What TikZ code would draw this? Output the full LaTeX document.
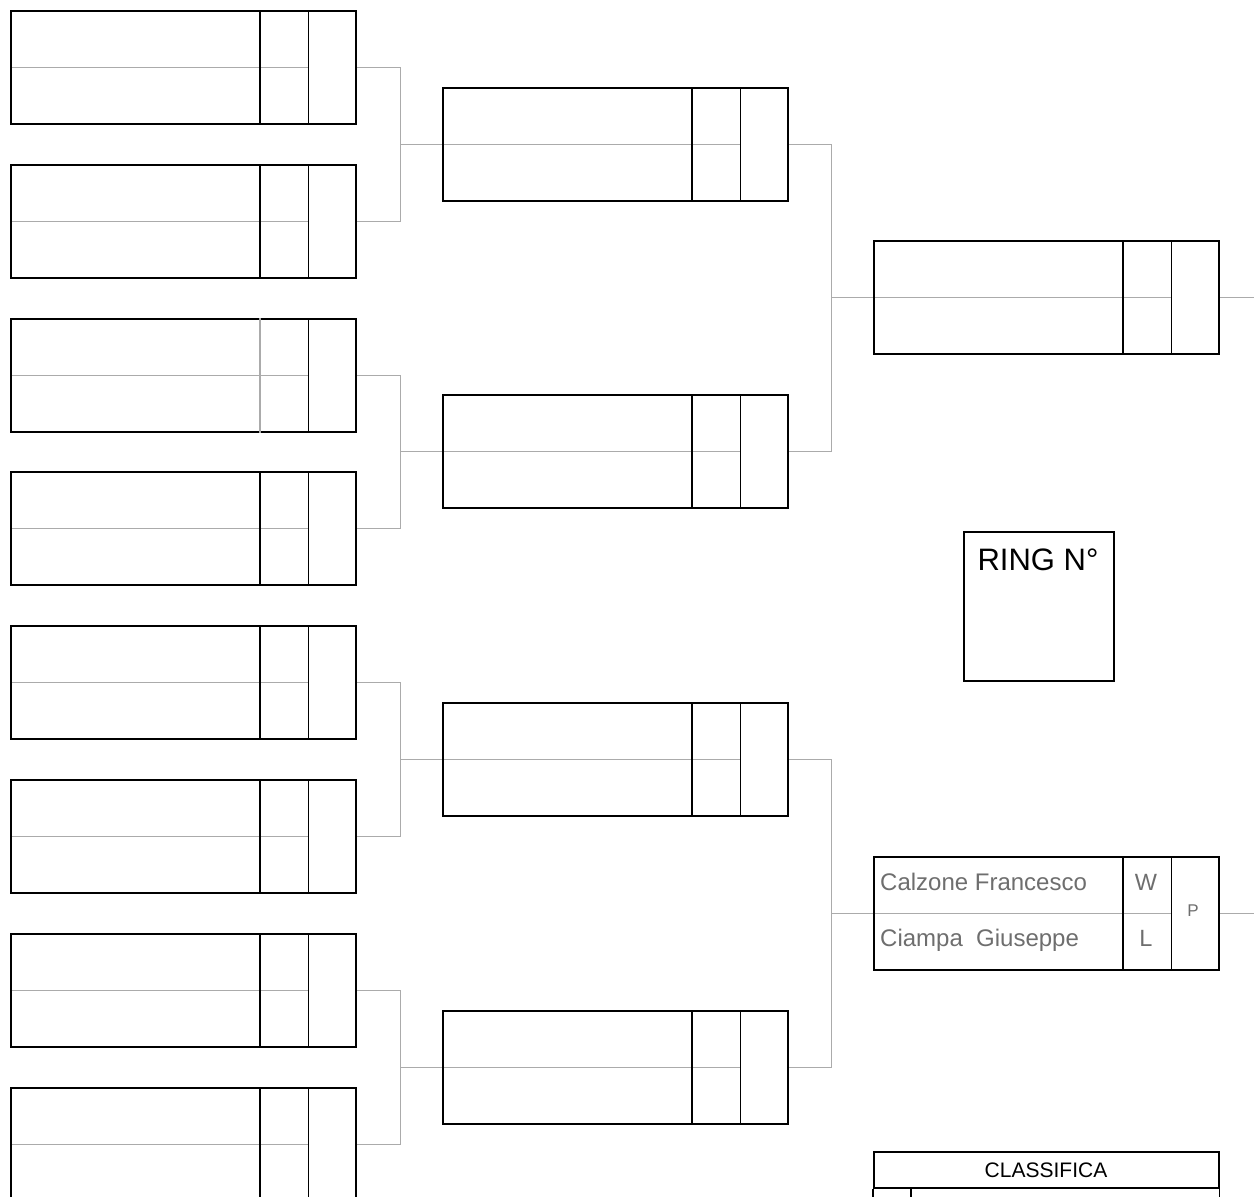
\documentclass[tikz,border=0pt]{standalone}
\usepackage{fontspec}
\setmainfont{Liberation Sans}
\usetikzlibrary{calc}
\definecolor{linegray}{HTML}{ABABAB}
\definecolor{textgray}{HTML}{6E6E6E}
\pgfdeclarelayer{background}
\pgfsetlayers{background,main}
\begin{document}
\begin{tikzpicture}[x=1pt,y=-1pt,
  match/.style={draw=black,line width=1.6pt,minimum width=345pt,minimum height=113pt,inner sep=0pt,anchor=north west},
  guide/.style={draw=linegray,line width=1.3pt},
  divider/.style={draw=black,line width=1.6pt},
  frame/.style={draw=black,line width=1.6pt,inner sep=0pt,anchor=north west},
  label/.style={inner sep=0pt,anchor=base},
  entry/.style={inner sep=0pt,text=textgray}]
\useasboundingbox (0,0) rectangle (1254,1197);

% round 1 boxes
\foreach \i/\t in {1/10,2/164,3/318,4/471,5/625,6/779,7/933,8/1087}
  \node[match] (L\i) at (10,\t) {};
% round 2 boxes
\foreach \i/\t in {1/87,2/394,3/702,4/1010}
  \node[match] (M\i) at (442,\t) {};
% round 3 boxes
\node[match] (F1) at (873,240) {};
\node[match] (F2) at (873,856) {};

% dividers
\foreach \n in {L1,L2,L4,L5,L6,L7,L8,M1,M2,M3,M4,F1,F2}
  \draw[divider] ([xshift=250pt]\n.north west) -- ([xshift=250pt]\n.south west);
\draw[guide] ([xshift=250pt]L3.north west) -- ([xshift=250pt]L3.south west);
\foreach \n in {L1,L2,L3,L4,L5,L6,L7,L8,M1,M2,M3,M4,F1,F2}
  \draw[divider] ([xshift=298.5pt]\n.north west) -- ([xshift=298.5pt]\n.south west);

% junctions
\coordinate (j1) at ($(L1.east)!0.5!(L2.east)+(44,0)$);
\coordinate (j2) at ($(L3.east)!0.5!(L4.east)+(44,0)$);
\coordinate (j3) at ($(L5.east)!0.5!(L6.east)+(44,0)$);
\coordinate (j4) at ($(L7.east)!0.5!(L8.east)+(44,0)$);
\coordinate (k1) at ($(M1.east)!0.5!(M2.east)+(43,0)$);
\coordinate (k2) at ($(M3.east)!0.5!(M4.east)+(43,0)$);
\coordinate (o1) at ($(F1.east)+(36,0)$);
\coordinate (o2) at ($(F2.east)+(36,0)$);
\foreach \n in {M1,M2,M3,M4,F1,F2}
  \coordinate (\n end) at ([xshift=298.5pt]\n.west);

\begin{pgfonlayer}{background}
  \foreach \n in {L1,L2,L3,L4,L5,L6,L7,L8}
    \draw[guide] (\n.west) -- ([xshift=298.5pt]\n.west);
  \draw[guide] (L1.east) -| (j1) |- (L2.east);
  \draw[guide] (L3.east) -| (j2) |- (L4.east);
  \draw[guide] (L5.east) -| (j3) |- (L6.east);
  \draw[guide] (L7.east) -| (j4) |- (L8.east);
  \draw[guide] (j1) -- (j1 -| M1end);
  \draw[guide] (j2) -- (j2 -| M2end);
  \draw[guide] (j3) -- (j3 -| M3end);
  \draw[guide] (j4) -- (j4 -| M4end);
  \draw[guide] (M1.east) -| (k1) |- (M2.east);
  \draw[guide] (M3.east) -| (k2) |- (M4.east);
  \draw[guide] (k1) -- (k1 -| F1end);
  \draw[guide] (k2) -- (k2 -| F2end);
  \draw[guide] (F1.east) -- (o1);
  \draw[guide] (F2.east) -- (o2);
\end{pgfonlayer}

% filled match
\node[entry,anchor=base west,font=\fontsize{24}{24}\selectfont] (n1) at (880,890) {Calzone Francesco};
\node[entry,anchor=base west,font=\fontsize{24}{24}\selectfont] (n2) at (880,946) {Ciampa\ \ Giuseppe};
\node[entry,anchor=base,font=\fontsize{23.5}{24}\selectfont] (w) at (1146,890) {W};
\node[entry,anchor=base,font=\fontsize{23.5}{24}\selectfont] (l) at (1146,946) {L};
\node[entry,anchor=base,font=\fontsize{17}{17}\selectfont] (p) at (1193,916) {P};

% ring box
\node[frame,minimum width=150pt,minimum height=149pt] (ring) at (963,531) {};
\node[label,font=\fontsize{31}{31}\selectfont] (ringlabel) at (1038,570) {RING N°};

% classifica
\node[frame,minimum width=345pt,minimum height=36pt] (cl) at (873,1151) {};
\node[label,font=\fontsize{21}{21}\selectfont] (cltext) at (1046,1177) {CLASSIFICA};
\draw[divider] (cl.south west) -- ++(0,15);
\draw[divider] (cl.south east) -- ++(0,15);
\draw[divider] ([xshift=38pt]cl.south west) -- ++(0,15);
\end{tikzpicture}
\end{document}
